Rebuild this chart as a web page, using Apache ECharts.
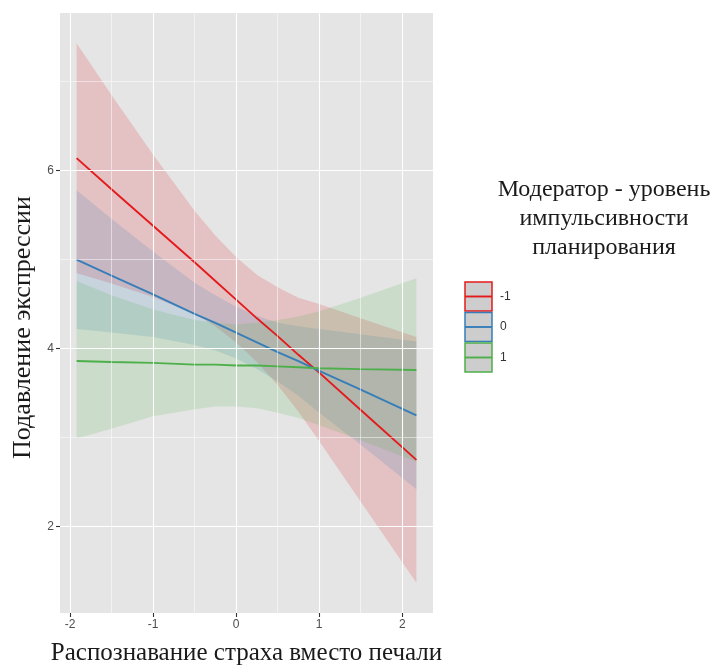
<!DOCTYPE html>
<html>
<head>
<meta charset="utf-8">
<script src="https://cdn.jsdelivr.net/npm/echarts@6/dist/echarts.min.js"></script>
<style>
html,body{margin:0;padding:0;background:#fff;}
#c{width:712px;height:666px;}
</style>
</head>
<body>
<div id="c"></div>
<script>
// ---- data ----
const xVals  = [-1.92, -1.5, -1, -0.5, -0.25, 0, 0.25, 0.5, 0.75, 1, 1.5, 2.17];
const groupNames = ['-1', '0', '1'];
const lineM1 = [6.14, 5.79, 5.38, 4.97, 4.76, 4.55, 4.34, 4.14, 3.93, 3.73, 3.31, 2.75];
const upM1   = [7.43, 6.85, 6.18, 5.55, 5.27, 5.03, 4.83, 4.69, 4.57, 4.50, 4.34, 4.13];
const lowM1  = [4.85, 4.73, 4.58, 4.39, 4.25, 4.07, 3.85, 3.59, 3.29, 2.96, 2.28, 1.37];
const line0  = [5.00, 4.82, 4.61, 4.39, 4.29, 4.18, 4.07, 3.96, 3.86, 3.75, 3.54, 3.25];
const up0    = [5.78, 5.46, 5.09, 4.74, 4.60, 4.47, 4.37, 4.29, 4.25, 4.22, 4.16, 4.08];
const low0   = [4.22, 4.18, 4.13, 4.04, 3.98, 3.89, 3.77, 3.63, 3.47, 3.28, 2.92, 2.42];
const lineP1 = [3.86, 3.85, 3.84, 3.82, 3.82, 3.81, 3.81, 3.80, 3.79, 3.78, 3.77, 3.76];
const upP1   = [4.76, 4.60, 4.44, 4.32, 4.29, 4.27, 4.29, 4.32, 4.36, 4.42, 4.57, 4.79];
const lowP1  = [2.99, 3.10, 3.24, 3.32, 3.35, 3.35, 3.33, 3.28, 3.22, 3.14, 2.97, 2.73];
const xTicks = [-2, -1, 0, 1, 2];
const xMinor = [-1.5, -0.5, 0.5, 1.5];
const yTicks = [2, 4, 6];
const yMinor = [3, 5, 7];
const xTitle = 'Распознавание страха вместо печали';
const yTitle = 'Подавление экспрессии';
const legendTitle = ['Модератор - уровень', 'импульсивности', 'планирования'];

// ---- styling ----
const colors = ['#E41A1C', '#377EB8', '#4DAF4A'];
const fills = ['rgba(228,26,28,0.17)', 'rgba(55,126,184,0.17)', 'rgba(77,175,74,0.17)'];
const lines = [lineM1, line0, lineP1];
const ups = [upM1, up0, upP1];
const lows = [lowM1, low0, lowP1];

const chart = echarts.init(document.getElementById('c'), null, {renderer: 'canvas'});

const series = [];
// panel grid lines
const gl = [];
xTicks.forEach(v => gl.push({xAxis: v, lineStyle: {color: '#fff', width: 1.1, type: 'solid'}}));
xMinor.forEach(v => gl.push({xAxis: v, lineStyle: {color: '#fff', width: 0.5, type: 'solid'}}));
yTicks.forEach(v => gl.push({yAxis: v, lineStyle: {color: '#fff', width: 1.1, type: 'solid'}}));
yMinor.forEach(v => gl.push({yAxis: v, lineStyle: {color: '#fff', width: 0.5, type: 'solid'}}));
series.push({
  type: 'line', data: [], z: 1, silent: true,
  markLine: {silent: true, symbol: 'none', animation: false, label: {show: false}, data: gl}
});

// confidence ribbons
for (let g = 0; g < 3; g++) {
  series.push({
    type: 'custom', name: groupNames[g] + ' band', z: 2, silent: true, clip: true,
    data: [[0]],
    renderItem: function (params, api) {
      const pts = [];
      for (let i = 0; i < xVals.length; i++) pts.push(api.coord([xVals[i], ups[g][i]]));
      for (let i = xVals.length - 1; i >= 0; i--) pts.push(api.coord([xVals[i], lows[g][i]]));
      return {type: 'polygon', shape: {points: pts}, style: {fill: fills[g], stroke: null}};
    }
  });
}
// regression lines
for (let g = 0; g < 3; g++) {
  series.push({
    type: 'line', name: groupNames[g], z: 3, symbol: 'none', silent: true,
    data: xVals.map((x, i) => [x, lines[g][i]]),
    lineStyle: {color: colors[g], width: 1.9}
  });
}

// legend drawn as graphic
const graphic = [];
legendTitle.forEach((t, i) => graphic.push({
  type: 'text', x: 604, y: 190 + i * 29,
  style: {text: t, font: '24px "Liberation Serif", "Times New Roman", serif', fill: '#1a1a1a',
          textAlign: 'center', textVerticalAlign: 'middle', align: 'center', verticalAlign: 'middle'}
}));
for (let g = 0; g < 3; g++) {
  const y0 = 282 + g * 30.5;
  graphic.push({
    type: 'rect', shape: {x: 465, y: y0, width: 27, height: 29},
    style: {fill: '#CDCDCD', stroke: colors[g], lineWidth: 1.5}
  });
  graphic.push({
    type: 'line', shape: {x1: 465, y1: y0 + 14.5, x2: 492, y2: y0 + 14.5},
    style: {stroke: colors[g], lineWidth: 1.9}
  });
  graphic.push({
    type: 'text', x: 500, y: y0 + 14.5,
    style: {text: groupNames[g], font: '12px "Liberation Sans", Arial, sans-serif', fill: '#333',
            textVerticalAlign: 'middle', verticalAlign: 'middle'}
  });
}

chart.setOption({
  animation: false,
  grid: {left: 60, right: 279, top: 13, bottom: 53, show: true, backgroundColor: '#E5E5E5', borderWidth: 0,
         containLabel: false, outerBoundsMode: 'none'},
  xAxis: {
    type: 'value', min: -2.12, max: 2.37,
    name: xTitle, nameLocation: 'middle', nameGap: 28,
    nameTextStyle: {fontFamily: '"Liberation Serif", "Times New Roman", serif', fontSize: 25, color: '#1a1a1a', verticalAlign: 'top'},
    axisLine: {show: false, onZero: false},
    axisTick: {show: true, length: 4, lineStyle: {color: '#333', width: 1.1}, customValues: xTicks},
    axisLabel: {color: '#4D4D4D', fontSize: 12, fontFamily: '"Liberation Sans", Arial, sans-serif', margin: 6, customValues: xTicks},
    splitLine: {show: false}
  },
  yAxis: {
    type: 'value', min: 1.03, max: 7.77,
    name: yTitle, nameLocation: 'middle', nameGap: 24, nameRotate: 90,
    nameTextStyle: {fontFamily: '"Liberation Serif", "Times New Roman", serif', fontSize: 26, color: '#1a1a1a',
                    verticalAlign: 'bottom', padding: [0, 29, 0, 0]},
    axisLine: {show: false, onZero: false},
    axisTick: {show: true, length: 4, lineStyle: {color: '#333', width: 1.1}, customValues: yTicks},
    axisLabel: {color: '#4D4D4D', fontSize: 12, fontFamily: '"Liberation Sans", Arial, sans-serif', margin: 6, customValues: yTicks},
    splitLine: {show: false}
  },
  graphic: graphic,
  series: series
});
</script>
</body>
</html>
